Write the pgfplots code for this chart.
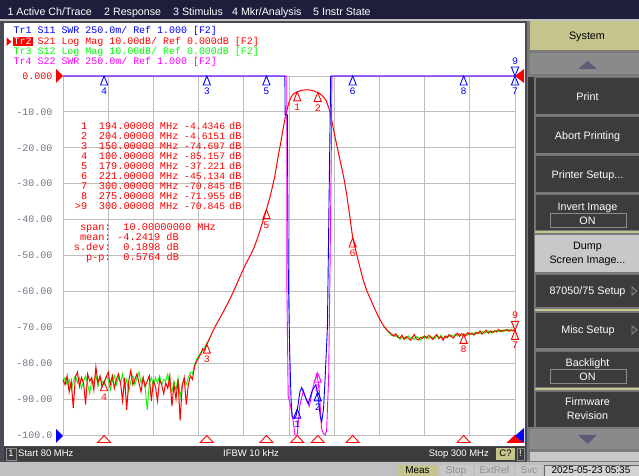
\documentclass[border=0pt]{standalone}
\usepackage{pgfplots}
\pgfplotsset{compat=1.18}
\usepackage{fontspec}
\setmainfont{Liberation Sans}
\newfontfamily\mono{Liberation Mono}
\newcommand{\mf}[1]{\mono\fontsize{#1}{#1}\selectfont}
\newcommand{\sz}[1]{\fontsize{#1}{#1}\selectfont}
\definecolor{navy}{HTML}{1E1E3C}
\definecolor{winbg}{HTML}{C0C0C0}
\definecolor{dark}{HTML}{3C3C3C}
\definecolor{khaki}{HTML}{C4C48C}
\definecolor{gridgray}{HTML}{BEBEBE}
\definecolor{lblgray}{HTML}{70748A}
\definecolor{vgreen}{HTML}{00FF00}
\definecolor{panelbd}{HTML}{4A4A56}
\definecolor{sidebg}{HTML}{7A7A7A}
\definecolor{btnedge}{HTML}{707070}
\definecolor{arrowbtn}{HTML}{8A8A8A}
\definecolor{arrowtri}{HTML}{5C5C78}
\definecolor{lightbtn}{HTML}{C8C8C8}
\definecolor{greytxt}{HTML}{909090}
\definecolor{mag}{HTML}{FF00FF}
\pgfdeclareplotmark{mk}{\pgfpathmoveto{\pgfpoint{0bp}{0bp}}\pgfpathlineto{\pgfpoint{-3.6bp}{-9bp}}\pgfpathlineto{\pgfpoint{3.6bp}{-9bp}}\pgfpathclose\pgfusepathqstroke}
\pgfdeclareplotmark{mkd}{\pgfpathmoveto{\pgfpoint{0bp}{0bp}}\pgfpathlineto{\pgfpoint{-3.6bp}{9bp}}\pgfpathlineto{\pgfpoint{3.6bp}{9bp}}\pgfpathclose\pgfusepathqstroke}
\pgfdeclareplotmark{stim}{\pgfpathmoveto{\pgfpoint{0bp}{-0.5bp}}\pgfpathlineto{\pgfpoint{-6.5bp}{-7.5bp}}\pgfpathlineto{\pgfpoint{6.5bp}{-7.5bp}}\pgfpathclose\pgfusepathqstroke}
\pgfdeclareplotmark{stimf}{\pgfpathmoveto{\pgfpoint{0bp}{-0.5bp}}\pgfpathlineto{\pgfpoint{-7.5bp}{-7.5bp}}\pgfpathlineto{\pgfpoint{7.5bp}{-7.5bp}}\pgfpathclose\pgfusepathqfillstroke}
\begin{document}
\begin{tikzpicture}
\useasboundingbox (0,0) rectangle (639bp,476bp);
% ---------------- window / UI ----------------
\begin{scope}[shift={(0bp,476bp)},x=1bp,y=-1bp,every node/.style={inner sep=0pt}]
\fill[winbg] (0,0) rectangle (639,476);
\fill[navy] (0,0) rectangle (639,19.5);
\fill[panelbd] (0,21) rectangle (527,462);
\fill[white] (4,23) rectangle (525,446);
\fill[dark] (4,447) rectangle (525,461);
\fill[sidebg] (527,21) rectangle (639,462);
% menu
\begin{scope}[every node/.style={inner sep=0pt,anchor=base west,text=white,font=\sz{10.7}}]
\node at (7.4,15.5) {1 Active Ch/Trace};
\node at (104,15.5) {2 Response};
\node at (173,15.5) {3 Stimulus};
\node at (232,15.5) {4 Mkr/Analysis};
\node at (313,15.5) {5 Instr State};
\end{scope}
% sidebar
\fill[khaki] (530,21) rectangle (639,50);
\node[anchor=base,font=\sz{10.8}] at (587,39.9) {System};
\fill[arrowbtn] (530,53) rectangle (639,74);
\fill[arrowtri] (578,69)--(587.7,61)--(597,69)--cycle;
\fill[black!80] (528,77) rectangle (534,427);
\foreach \ya/\yb in {77/114,116/153,155/192,194/230,274/307,312/348,351/387,391/427}{
  \fill[dark] (535,\ya) rectangle (639,\yb);
  \draw[btnedge,line width=0.8bp] (535.4,\yb) -- (535.4,\ya) -- (639,\ya);
}
\fill[lightbtn] (535,235) rectangle (639,272);
\fill[khaki] (535,231) rectangle (639,233);
\fill[khaki] (535,309) rectangle (639,311);
\fill[khaki] (535,388.5) rectangle (639,390);
\draw[arrowbtn,line width=0.8bp] (550,213) rectangle (626,227);
\draw[arrowbtn,line width=0.8bp] (550,369) rectangle (626,383);
\begin{scope}[every node/.style={inner sep=0pt,anchor=base,text=white,font=\sz{10.8}}]
\node at (587.5,100.6) {Print};
\node at (587.5,139.6) {Abort Printing};
\node at (587.5,178.9) {Printer Setup...};
\node at (587.5,210.6) {Invert Image};
\node at (587.5,224.6) {ON};
\node[text=black] at (587.5,249.9) {Dump};
\node[text=black] at (587.5,263.9) {Screen Image...};
\node at (587.5,294.6) {87050/75 Setup};
\node at (588,333.9) {Misc Setup};
\node at (587.5,366.6) {Backlight};
\node at (587.5,380.6) {ON};
\node at (587.5,405.6) {Firmware};
\node at (587.5,419.9) {Revision};
\end{scope}
\draw[arrowbtn,line width=0.8bp] (632,287)--(637,291)--(632,295)--cycle;
\draw[arrowbtn,line width=0.8bp] (632,326)--(637,330)--(632,334)--cycle;
\fill[arrowbtn] (530,429) rectangle (639,449);
\fill[arrowtri] (578,435)--(597,435)--(587.7,444)--cycle;
\fill[lightbtn] (530,452) rectangle (639,461);
% status bar
\draw[arrowbtn,line width=0.8bp] (6,448) rectangle (16,460);
\begin{scope}[every node/.style={inner sep=0pt,text=white,font=\sz{9.5}}]
\node[anchor=base] at (11,457) {1};
\node[anchor=base west] at (18,457) {Start 80 MHz};
\node[anchor=base] at (251,457) {IFBW 10 kHz};
\node[anchor=base east] at (489,457) {Stop 300 MHz};
\end{scope}
\fill[khaki] (496,448) rectangle (515,460);
\node[anchor=base,font=\sz{9.5}] at (505.5,457) {C?};
\draw[arrowbtn,line width=0.8bp] (517,448) rectangle (524,460);
\node[anchor=base,font=\sz{9.5},text=white] at (520.5,457) {!};
% bottom status row
\fill[khaki] (398,465) rectangle (437,476);
\fill[lightbtn] (439,465) rectangle (473,476);
\fill[lightbtn] (475,465) rectangle (514,476);
\fill[lightbtn] (516,465) rectangle (542,476);
\fill[lightbtn!80!white] (544,465) rectangle (639,476);
\draw[black!60,line width=0.8bp] (544,465) rectangle (639,477);
\begin{scope}[every node/.style={inner sep=0pt,anchor=base,font=\sz{10}}]
\node at (417.5,474) {Meas};
\node[text=greytxt] at (456,474) {Stop};
\node[text=greytxt] at (494.5,474) {ExtRef};
\node[text=greytxt] at (529,474) {Svc};
\node at (591,474) {2025-05-23 05:35};
\end{scope}
\end{scope}
% ---------------- dB axis (S21, S12) ----------------
\begin{axis}[
  at={(63bp,41bp)}, anchor=south west, scale only axis,
  width=452bp, height=359bp,
  xmin=80, xmax=300, ymin=-100, ymax=0,
  xtick={80,102,...,300}, xticklabel=\empty,
  ytick={-100,-90,...,0},
  yticklabels={-100.0,-90.00,-80.00,-70.00,-60.00,-50.00,-40.00,-30.00,-20.00,-10.00,\textcolor{red}{0.000}},
  yticklabel style={font=\mf{10}, text=lblgray, inner sep=0pt, anchor=east, xshift=-10.5bp},
  major tick length=0pt,
  grid=major, grid style={draw=gridgray, line width=0.9bp},
  axis line style={draw=gridgray, line width=0.9bp},
  clip=false,
]
% S12 (green), low-frequency stopband
\addplot[color=vgreen, line width=0.9bp, mark=none] coordinates {
(80,-85.5) (81,-84.0) (82,-86.0) (83,-84.5) (84,-87.5) (85,-85.0) (86,-83.5) (87,-85.5) (88,-84.0) (89,-87.0)
(90,-85.0) (91,-83.5) (92,-86.0) (93,-88.5) (94,-84.5) (95,-85.5) (96,-83.0) (97,-86.5) (98,-84.0) (99,-85.0)
(100,-86.0) (101,-83.5) (102,-84.5) (103,-87.5) (104,-85.0) (105,-83.5) (106,-86.0) (107,-84.0) (108,-85.5) (109,-83.0)
(110,-86.5) (111,-84.5) (112,-88.0) (113,-85.0) (114,-83.5) (115,-86.0) (116,-84.0) (117,-82.5) (118,-85.5) (119,-84.0)
(120,-87.0) (121,-93.0) (122,-85.5) (123,-84.0) (124,-86.5) (125,-84.0) (126,-85.5) (127,-83.5) (128,-86.0) (129,-84.5)
(130,-85.0) (131,-83.0) (132,-86.5) (133,-88.0) (134,-85.0) (135,-87.5) (136,-84.0) (137,-89.5) (138,-86.0) (139,-84.5)
(140,-86.0) (141,-84.0) (142,-82.5) (143,-83.0) (144,-80.5) (145,-79.0) (146,-78.0) (147,-77.0) (148,-76.5) (149,-75.5)
(150,-74.5) (151,-73.5) (152,-72.3)
};
% S12 (green), high-frequency stopband
\addplot[color=vgreen, line width=0.9bp, mark=none] coordinates {
(236,-69.6) (238,-71.0) (239,-71.8) (240,-72.3) (241,-72.0) (242,-72.6) (243,-72.2) (244,-73.4) (245,-72.8) (246,-72.9)
(247,-73.2) (248,-72.4) (249,-73.0) (250,-72.7) (251,-73.4) (252,-72.6) (253,-72.9) (254,-73.6) (255,-72.5) (256,-73.0)
(257,-72.6) (258,-73.2) (259,-72.4) (260,-72.9) (261,-73.2) (262,-72.4) (263,-72.8) (264,-72.2) (265,-72.9) (266,-73.0)
(267,-72.4) (268,-72.7) (269,-72.1) (270,-72.6) (271,-71.9) (272,-72.4) (273,-71.8) (274,-72.3) (275,-72.1) (276,-71.8)
(277,-72.2) (278,-71.6) (279,-72.0) (280,-71.5) (281,-71.9) (282,-71.3) (283,-71.7) (284,-71.2) (285,-71.6) (286,-71.4)
(287,-71.0) (288,-71.5) (289,-71.1) (290,-71.4) (291,-70.9) (292,-71.2) (293,-70.8) (294,-71.3) (295,-70.7) (296,-71.0)
(297,-70.6) (298,-71.1) (299,-70.7) (300,-70.9)
};
% S21 (red)
\addplot[color=red, line width=1.0bp, mark=none] coordinates {
(80,-84.5) (81,-86.0) (82,-83.5) (83,-88.0) (84,-85.0) (85,-92.5) (86,-84.0) (87,-82.5) (88,-86.5) (89,-84.0)
(90,-85.5) (91,-91.5) (92,-83.0) (93,-85.0) (94,-84.0) (95,-87.5) (96,-81.0) (97,-85.5) (98,-83.5) (99,-86.5)
(100,-85.157) (101,-84.0) (102,-82.5) (103,-86.0) (104,-83.5) (105,-87.0) (106,-84.5) (107,-83.0) (108,-85.5) (109,-90.5)
(110,-84.0) (111,-93.0) (112,-85.0) (113,-82.0) (114,-86.0) (115,-84.5) (116,-83.0) (117,-85.5) (118,-88.0) (119,-84.0)
(120,-86.5) (121,-85.0) (122,-83.5) (123,-90.5) (124,-85.0) (125,-86.5) (126,-90.5) (127,-84.5) (128,-86.0) (129,-88.5)
(130,-85.5) (131,-87.0) (132,-83.5) (133,-92.0) (134,-86.0) (135,-90.0) (136,-84.5) (137,-96.0) (138,-86.5) (139,-84.0)
(140,-91.5) (141,-86.0) (142,-83.5) (143,-84.5) (144,-81.0) (145,-79.5) (146,-78.5) (147,-77.5) (148,-76.0) (149,-76.5)
(150,-74.697) (151,-73.5) (152,-72.3) (153,-71.0) (155,-68.8) (157,-66.8) (159,-64.6) (161,-62.4) (163,-60.0) (165,-57.4)
(167,-54.8) (169,-52.3) (171,-50.2) (173,-47.8) (175,-44.6) (177,-41.0) (179,-37.221) (181,-33.2) (183,-28.2) (185,-21.5)
(186,-18.5) (187,-15.2) (188,-12.0) (189,-9.5) (190,-7.3) (191,-5.9) (192,-5.1) (193,-4.7) (194,-4.4346) (196,-4.0)
(198,-3.85) (200,-3.9) (202,-4.15) (204,-4.6151) (205,-4.9) (206,-5.4) (207,-6.0) (208,-6.8) (209,-8.3) (210,-10.0)
(211,-13.0) (212,-15.8) (213,-18.6) (214,-21.2) (215,-23.9) (216,-26.5) (217,-29.3) (218,-32.7) (219,-36.7) (220,-40.8)
(221,-45.134) (222,-47.5) (223,-49.8) (224,-52.1) (225,-54.4) (226,-56.6) (228,-60.0) (230,-62.6) (232,-65.2) (234,-67.6)
(236,-69.6) (238,-71.0) (239,-71.4) (240,-72.0) (241,-72.5) (242,-71.8) (243,-72.8) (244,-73.0) (245,-72.2) (246,-73.4)
(247,-72.6) (248,-73.0) (249,-73.6) (250,-73.0) (251,-72.0) (252,-73.2) (253,-73.5) (254,-72.8) (255,-73.1) (256,-72.4)
(257,-73.0) (258,-72.2) (259,-72.8) (260,-73.4) (261,-72.5) (262,-72.0) (263,-73.2) (264,-72.6) (265,-73.6) (266,-72.4)
(267,-72.9) (268,-72.0) (269,-72.6) (270,-73.0) (271,-72.2) (272,-71.6) (273,-72.5) (274,-71.8) (275,-71.955) (276,-72.4)
(277,-71.5) (278,-72.0) (279,-71.6) (280,-72.2) (281,-71.4) (282,-71.8) (283,-71.0) (284,-71.9) (285,-71.3) (286,-70.8)
(287,-71.6) (288,-71.0) (289,-71.5) (290,-70.9) (291,-71.3) (292,-70.6) (293,-71.2) (294,-70.8) (295,-71.0) (296,-70.6)
(297,-71.1) (298,-70.7) (299,-71.0) (300,-70.845)
};
% red markers
\addplot[red, only marks, mark=mk, mark options={line width=0.9bp},
  point meta=explicit symbolic, nodes near coords,
  every node near coord/.append style={anchor=north, yshift=-11.5bp, font=\mf{10}, text=red, inner sep=0pt}]
  coordinates {(194,-4.4346)[1] (204,-4.6151)[2] (150,-74.697)[3] (100,-85.157)[4] (179,-37.221)[5] (221,-45.134)[6] (300,-70.845)[7] (275,-71.955)[8]};
\addplot[red, only marks, mark=mkd, mark options={line width=0.9bp},
  point meta=explicit symbolic, nodes near coords,
  every node near coord/.append style={anchor=south, yshift=11bp, font=\mf{10}, text=red, inner sep=0pt}]
  coordinates {(300,-70.845)[9]};
% stimulus indicators below the grid
\addplot[red, only marks, mark=stim, mark options={line width=0.9bp}]
  coordinates {(100,-100) (150,-100) (179,-100) (194,-100) (204,-100) (221,-100) (275,-100)};
\addplot[red, only marks, mark=stimf, mark options={line width=0.9bp, fill=red}]
  coordinates {(300,-100)};
\end{axis}
% ---------------- SWR axis (S11, S22) ----------------
\begin{axis}[
  at={(63bp,41bp)}, anchor=south west, scale only axis,
  width=452bp, height=359bp,
  xmin=80, xmax=300, ymin=1, ymax=3.5,
  hide axis, clip=false,
]
% S22 (magenta)
\addplot[color=mag, line width=0.9bp, mark=none] coordinates {
(80,3.5) (188.9,3.5) (189.0,2.0) (189.6,1.27) (190.8,1.2) (192.0,1.1) (192.9,1.0) (194.0,1.0) (195.2,1.2) (197.0,1.31)
(198.5,1.24) (199.9,1.2) (201.8,1.34) (203.6,1.43) (204.8,1.3) (205.8,1.05) (206.7,1.01) (207.6,1.0) (208.3,1.03) (209.3,1.4)
(210.0,2.2) (210.6,3.0) (210.9,3.5) (300,3.5)
};
% S11 (blue)
\addplot[color=blue, line width=0.9bp, mark=none] coordinates {
(80,3.5) (188.0,3.5) (188.1,3.23) (189.2,3.23) (189.6,2.2) (190.3,1.6) (191.0,1.25) (191.5,1.13) (192.5,1.115) (193.4,1.13)
(194.3,1.2) (195.3,1.3) (196.2,1.33) (197.8,1.27) (199.4,1.22) (201.3,1.31) (203.1,1.35) (204.3,1.25) (205.2,1.13) (205.9,1.09)
(206.8,1.18) (207.6,1.4) (208.7,1.75) (209.6,2.75) (210.3,3.5) (300,3.5)
};
% blue markers
\addplot[blue, only marks, mark=mk, mark options={line width=0.9bp},
  point meta=explicit symbolic, nodes near coords,
  every node near coord/.append style={anchor=north, yshift=-11.5bp, font=\mf{10}, text=blue, inner sep=0pt}]
  coordinates {(100,3.5)[4] (150,3.5)[3] (179,3.5)[5] (221,3.5)[6] (275,3.5)[8] (300,3.5)[7] (194,1.18)[1] (204,1.3)[2]};
\addplot[blue, only marks, mark=mkd, mark options={line width=0.9bp},
  point meta=explicit symbolic, nodes near coords,
  every node near coord/.append style={anchor=south, yshift=11bp, font=\mf{10}, text=blue, inner sep=0pt}]
  coordinates {(300,3.5)[9]};
\addplot[mag, only marks, mark=mk, mark options={line width=0.9bp},
  point meta=explicit symbolic, nodes near coords,
  every node near coord/.append style={anchor=north, yshift=-11.5bp, font=\mf{10}, text=mag, inner sep=0pt}]
  coordinates {(204,1.43)[2]};
\end{axis}
% ---------------- overlay texts ----------------
\begin{scope}[shift={(0bp,476bp)},x=1bp,y=-1bp,every node/.style={inner sep=0pt}]
% reference level indicators
\fill[red] (56,69)--(63,76)--(56,83)--cycle;
\fill[red] (524,69)--(515,76)--(524,83)--cycle;
\fill[blue] (56,429)--(63,436)--(56,443)--cycle;
\fill[blue] (524,428)--(515,436)--(524,443)--cycle;
% trace header
\fill[red] (12.5,37) rectangle (32.5,46.5);
\fill[red] (6.5,37.5)--(11.5,41.7)--(6.5,46)--cycle;
\begin{scope}[every node/.style={inner sep=0pt,anchor=base west,font=\mf{10}}]
\node[text=blue] at (13.5,33.7) {Tr1 S11 SWR 250.0m/ Ref 1.000 [F2]};
\node[text=red] at (13.5,44.2) {\textcolor{white}{Tr2} S21 Log Mag 10.00dB/ Ref 0.000dB [F2]};
\node[text=vgreen] at (13.5,54.5) {Tr3 S12 Log Mag 10.00dB/ Ref 0.000dB [F2]};
\node[text=mag] at (13.5,64.7) {Tr4 S22 SWR 250.0m/ Ref 1.000 [F2]};
\end{scope}
% marker table
\begin{scope}[every node/.style={inner sep=0pt,anchor=base west,font=\mf{10.3},text=red}]
\foreach \i/\n/\f/\v in {0/1/194.00000/-4.4346, 1/2/204.00000/-4.6151, 2/3/150.00000/-74.697,
  3/4/100.00000/-85.157, 4/5/179.00000/-37.221, 5/6/221.00000/-45.134, 6/7/300.00000/-70.845,
  7/8/275.00000/-71.955, 8/>9/300.00000/-70.845}{
  \node[anchor=base east] at (87.5,129.5+10*\i) {\n};
  \node at (98.7,129.5+10*\i) {\f};
  \node at (159.8,129.5+10*\i) {MHz};
  \node[font=\mf{9.8}] at (184,129.5+10*\i) {\v};
  \node at (229,129.5+10*\i) {dB};
}
\node[anchor=base east] at (111,230.6) {span:};
\node[anchor=base east] at (111,240.6) {mean:};
\node[anchor=base east] at (111,250.1) {s.dev:};
\node[anchor=base east] at (111,260.1) {p-p:};
\node at (123.3,230.6) {10.00000000 MHz};
\node at (117.0,240.6) {-4.2419 dB};
\node at (123.3,250.1) {0.1898 dB};
\node at (123.3,260.1) {0.5764 dB};
\end{scope}
\end{scope}
\end{tikzpicture}
\end{document}
